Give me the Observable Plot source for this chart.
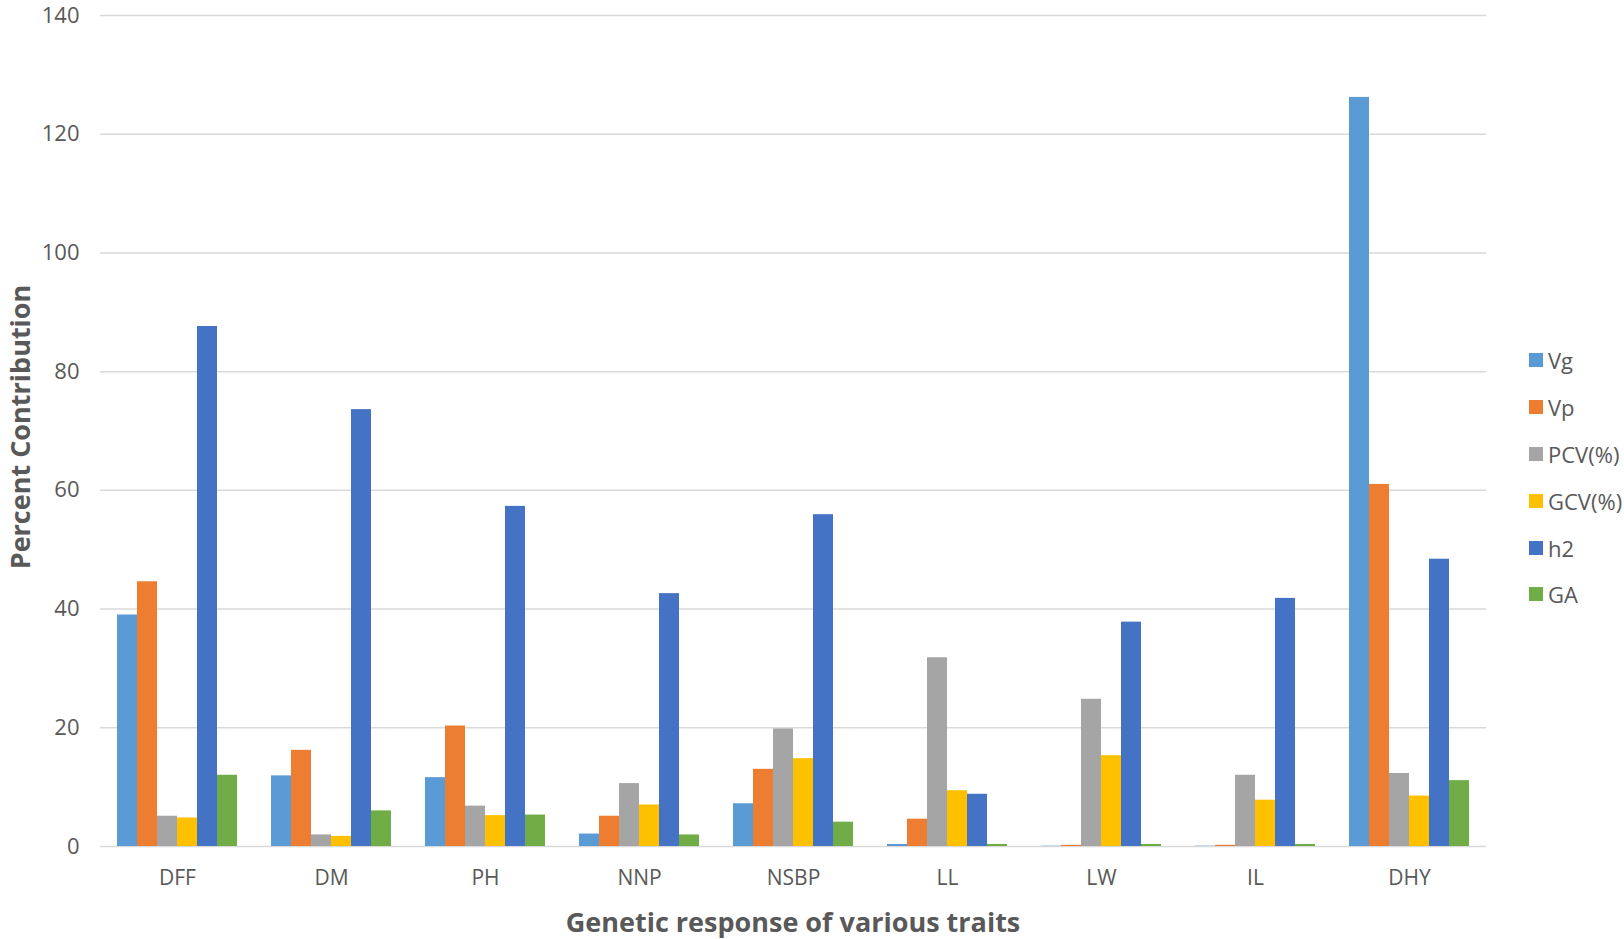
<!DOCTYPE html>
<html>
<head>
<meta charset="utf-8">
<script src="https://cdn.jsdelivr.net/npm/d3@7"></script>
<script src="https://cdn.jsdelivr.net/npm/@observablehq/plot@0.6"></script>
<style>
  html, body { margin: 0; padding: 0; background: #fff; }
  #wrap { position: relative; width: 1624px; height: 939px; overflow: hidden; font-family: "Open Sans", sans-serif; color: #595959; }
  #chart svg { overflow: visible; display: block; }
  .title { position: absolute; font-weight: bold; font-size: 27px; line-height: 1; white-space: nowrap; color: #595959; }
  #xtitle { left: 793px; top: 921px; transform: translate(-50%, -50%); }
  #ytitle { left: 19px; top: 427px; transform: translate(-50%, -50%) rotate(-90deg); }
  .leg { position: absolute; left: 1529px; height: 30px; display: flex; align-items: center; font-size: 22px; color: #595959; white-space: nowrap; transform: translateY(-50%); }
  .leg span.sw { width: 14px; height: 14px; display: inline-block; margin-right: 5px; }
</style>
</head>
<body>
<div id="wrap">
  <div id="chart"></div>
  <div class="title" id="xtitle">Genetic response of various traits</div>
  <div class="title" id="ytitle">Percent Contribution</div>
  <div id="legend"></div>
</div>
<script>
const categories = ["DFF", "DM", "PH", "NNP", "NSBP", "LL", "LW", "IL", "DHY"];
const seriesNames = ["Vg", "Vp", "PCV(%)", "GCV(%)", "h2", "GA"];
const seriesColors = ["#5B9BD5", "#ED7D31", "#A5A5A5", "#FFC000", "#4472C4", "#70AD47"];
const Vg  = [39.0, 11.9, 11.6, 2.1, 7.2, 0.35, 0.05, 0.05, 126.2];
const Vp  = [44.6, 16.2, 20.3, 5.1, 13.0, 4.6, 0.2, 0.2, 61.0];
const PCV = [5.1, 1.95, 6.8, 10.6, 19.8, 31.8, 24.8, 12.0, 12.3];
const GCV = [4.8, 1.7, 5.2, 7.0, 14.8, 9.4, 15.3, 7.8, 8.5];
const h2  = [87.6, 73.6, 57.3, 42.6, 55.9, 8.8, 37.8, 41.8, 48.4];
const GA  = [12.0, 6.0, 5.3, 1.95, 4.1, 0.35, 0.35, 0.35, 11.1];
const yTicks = [0, 20, 40, 60, 80, 100, 120, 140];

const seriesValues = [Vg, Vp, PCV, GCV, h2, GA];
const rows = [];
categories.forEach((c, i) => {
  seriesNames.forEach((s, j) => {
    rows.push({category: c, series: s, value: seriesValues[j][i]});
  });
});

const chart = Plot.plot({
  width: 1624,
  height: 939,
  marginLeft: 100,
  marginRight: 138,
  marginTop: 15,
  marginBottom: 93,
  style: {fontFamily: "Open Sans", fontSize: "21px", color: "#595959", background: "white"},
  fx: {domain: categories, padding: 0, label: null, axis: null},
  x: {domain: seriesNames, paddingInner: 0, paddingOuter: 0.85, axis: null},
  y: {domain: [0, 140], label: null, axis: null},
  color: {domain: seriesNames, range: seriesColors},
  marks: [
    Plot.gridY(yTicks, {stroke: "#d9d9d9", strokeOpacity: 1, strokeWidth: 1.5}),
    Plot.barY(rows, {fx: "category", x: "series", y: "value", fill: "series"}),
    Plot.axisY(yTicks, {anchor: "left", tickSize: 0, tickPadding: 21, fontSize: 22, label: null, fill: "#595959"}),
    Plot.axisFx({anchor: "bottom", tickSize: 0, tickPadding: 24, fontSize: 21, label: null, fill: "#595959"})
  ]
});
document.getElementById("chart").appendChild(chart);

const legendYs = [360, 407, 454, 501, 548, 594];
const legend = document.getElementById("legend");
seriesNames.forEach((s, i) => {
  const d = document.createElement("div");
  d.className = "leg";
  d.style.top = legendYs[i] + "px";
  d.innerHTML = `<span class="sw" style="background:${seriesColors[i]}"></span>${s}`;
  legend.appendChild(d);
});
</script>
</body>
</html>
